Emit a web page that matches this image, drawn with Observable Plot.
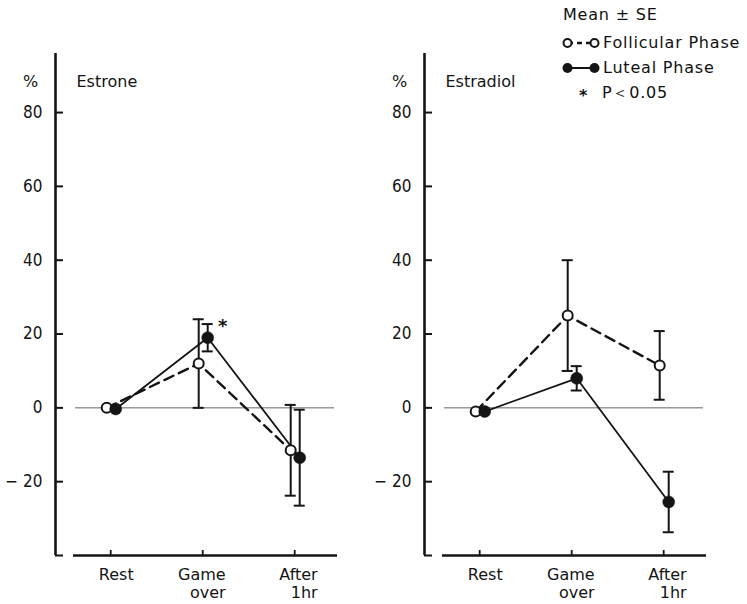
<!DOCTYPE html>
<html>
<head>
<meta charset="utf-8">
<script src="https://cdn.jsdelivr.net/npm/d3@7"></script>
<script src="https://cdn.jsdelivr.net/npm/@observablehq/plot@0.6"></script>
<style>
  html, body { margin: 0; padding: 0; background: #fff; }
  #chart { position: relative; width: 747px; height: 604px; overflow: hidden; font-family: "DejaVu Sans", sans-serif; color: #111; }
  #chart svg.panel { position: absolute; top: 0; }
  .lg { position: absolute; font-size: 16px; line-height: 20px; letter-spacing: 0.8px; white-space: nowrap; color: #111; }
  .lg svg { position: absolute; }
</style>
</head>
<body>
<div id="chart"></div>
<script>
// ---- Data ----
const timepoints = ["Rest", "Game\nover", "After\n1hr"];
const phases = ["Follicular Phase", "Luteal Phase"];

const estroneFollicularMean = [0, 12, -11.5];
const estroneFollicularSE   = [0, 12, 12.3];
const estroneLutealMean     = [-0.3, 19, -13.5];
const estroneLutealSE       = [0, 3.7, 13];

const estradiolFollicularMean = [-1, 25, 11.5];
const estradiolFollicularSE   = [0, 15, 9.3];
const estradiolLutealMean     = [-1, 8, -25.5];
const estradiolLutealSE       = [0, 3.3, 8.2];

// significant differences (P<0.05): time index
const estroneStars = [1];
const estradiolStars = [];

const yTicks = [80, 60, 40, 20, 0, -20];
const yDomain = [-40, 96];
const xDomain = [-0.6, 2.6];

// ---- Layout constants ----
const W = 370, H = 604, ML = 55, MR = 20.6, MT = 53, MB = 49;
const pxPerX = (W - ML - MR) / (xDomain[1] - xDomain[0]);
const pxPerY = (H - MT - MB) / (yDomain[1] - yDomain[0]);
const FDX = -4, LDX = 5;          // horizontal offsets of the two phases
const CAP = 5.5 / pxPerX;         // half-width of error bar caps
const INK = "#141414";
const FONT = "DejaVu Sans, sans-serif";
const NUMFONT = "Liberation Sans Narrow, DejaVu Sans Condensed, sans-serif";

function rows(means, ses) {
  return means.map((m, i) => ({t: i, mean: m, se: ses[i]}));
}

function panel(title, fMean, fSE, lMean, lSE, stars) {
  const fol = rows(fMean, fSE), lut = rows(lMean, lSE);
  const fe = fol.filter(d => d.se > 0), le = lut.filter(d => d.se > 0);
  const capsOf = arr => arr.flatMap(d => [{t: d.t, y: d.mean + d.se}, {t: d.t, y: d.mean - d.se}]);
  const fmt = d => d < 0 ? "\u2212 " + (-d) : String(d);
  const labels = timepoints.map((s, i) => {
    const [a, b] = s.split("\n");
    return {t: i, a, b: b || ""};
  });
  return Plot.plot({
    width: W, height: H,
    marginLeft: ML, marginRight: MR, marginTop: MT, marginBottom: MB,
    x: {domain: xDomain, axis: null},
    y: {domain: yDomain, axis: null},
    style: {fontFamily: FONT, fontSize: "16px", background: "transparent", color: INK, overflow: "visible"},
    marks: [
      // axes
      Plot.ruleX([xDomain[0]], {y1: yDomain[0], y2: yDomain[1], stroke: INK, strokeWidth: 2.6}),
      Plot.ruleY([...yTicks, yDomain[0]], {y: d => d, x1: xDomain[0], x2: xDomain[0] + 8 / pxPerX, stroke: INK, strokeWidth: 2}),
      Plot.text(yTicks, {x: xDomain[0], y: d => d, text: fmt, dx: -13, textAnchor: "end", fontFamily: NUMFONT, fontSize: 17, fill: INK}),
      Plot.ruleY([yDomain[0]], {x1: xDomain[0] + 18 / pxPerX, x2: xDomain[0] + 282 / pxPerX, stroke: INK, strokeWidth: 2.6}),
      Plot.ruleX(labels, {x: "t", y1: yDomain[0], y2: yDomain[0] + 5 / pxPerY, stroke: INK, strokeWidth: 1.8}),
      Plot.text(labels, {x: "t", y: yDomain[0], text: "a", dx: 23, dy: 13, lineAnchor: "top", textAnchor: "end", fontSize: 16, fill: INK}),
      Plot.text(labels.filter(d => d.b), {x: "t", y: yDomain[0], text: "b", dx: 23, dy: 31, lineAnchor: "top", textAnchor: "end", fontSize: 16, fill: INK}),
      // zero reference line
      Plot.ruleY([0], {x1: xDomain[0] + 20 / pxPerX, x2: xDomain[0] + 279 / pxPerX, stroke: "#666", strokeWidth: 1}),
      // titles
      Plot.text(["%"], {frameAnchor: "top-left", dx: -25, dy: 22, textAnchor: "middle", fontSize: 16, fill: INK}),
      Plot.text([title], {frameAnchor: "top-left", dx: 21, dy: 22, textAnchor: "start", fontSize: 16, fill: INK, style: {letterSpacing: "0.6px"}}),
      // lines
      Plot.line(fol, {x: "t", y: "mean", dx: FDX, stroke: INK, strokeWidth: 2.4, strokeDasharray: "10,6"}),
      Plot.line(lut, {x: "t", y: "mean", dx: LDX, stroke: INK, strokeWidth: 1.8}),
      // error bars
      Plot.ruleX(fe, {x: "t", y1: d => d.mean - d.se, y2: d => d.mean + d.se, dx: FDX, stroke: INK, strokeWidth: 2}),
      Plot.ruleX(le, {x: "t", y1: d => d.mean - d.se, y2: d => d.mean + d.se, dx: LDX, stroke: INK, strokeWidth: 2}),
      Plot.ruleY(capsOf(fe), {y: "y", x1: d => d.t - CAP, x2: d => d.t + CAP, dx: FDX, stroke: INK, strokeWidth: 2}),
      Plot.ruleY(capsOf(le), {y: "y", x1: d => d.t - CAP, x2: d => d.t + CAP, dx: LDX, stroke: INK, strokeWidth: 2}),
      // points
      Plot.dot(fol, {x: "t", y: "mean", dx: FDX, r: 5, fill: "white", stroke: INK, strokeWidth: 2}),
      Plot.dot(lut, {x: "t", y: "mean", dx: LDX, r: 6, fill: INK, stroke: INK, strokeWidth: 0.5}),
      // significance marks
      Plot.text(stars.map(i => lut[i]), {x: "t", y: d => d.mean + d.se, text: () => "*", dx: LDX + 15, dy: 2, fontSize: 18, fontWeight: "bold", fill: INK})
    ]
  });
}

const chart = document.getElementById("chart");
const left = panel("Estrone", estroneFollicularMean, estroneFollicularSE, estroneLutealMean, estroneLutealSE, estroneStars);
left.classList.add("panel");
left.style.left = "0px";
const right = panel("Estradiol", estradiolFollicularMean, estradiolFollicularSE, estradiolLutealMean, estradiolLutealSE, estradiolStars);
right.classList.add("panel");
right.style.left = "369px";
chart.appendChild(left);
chart.appendChild(right);

// ---- Legend ----
function addLegend() {
  const mk = (html, x, y) => {
    const d = document.createElement("div");
    d.className = "lg";
    d.style.left = x + "px";
    d.style.top = (y - 10) + "px";
    d.innerHTML = html;
    chart.appendChild(d);
    return d;
  };
  mk("Mean \u00b1 SE", 563, 15);
  const sym = (dashed) => {
    const c = dashed
      ? `<line x1="6" y1="7" x2="32" y2="7" stroke="${INK}" stroke-width="2.4" stroke-dasharray="5,4"/>
         <circle cx="5.5" cy="7" r="4" fill="white" stroke="${INK}" stroke-width="2"/>
         <circle cx="32.5" cy="7" r="4" fill="white" stroke="${INK}" stroke-width="2"/>`
      : `<line x1="6" y1="7" x2="32" y2="7" stroke="${INK}" stroke-width="2"/>
         <circle cx="5.5" cy="7" r="5" fill="${INK}"/>
         <circle cx="32.5" cy="7" r="5" fill="${INK}"/>`;
    return `<svg width="38" height="14" style="left:-41px;top:3px">${c}</svg>`;
  };
  mk(sym(true) + phases[0], 603, 43);
  mk(sym(false) + phases[1], 603, 68);
  mk("*", 579, 96).style.fontWeight = "bold";
  mk("P\uff1c0.05", 602, 93);
}
addLegend();
</script>
</body>
</html>
